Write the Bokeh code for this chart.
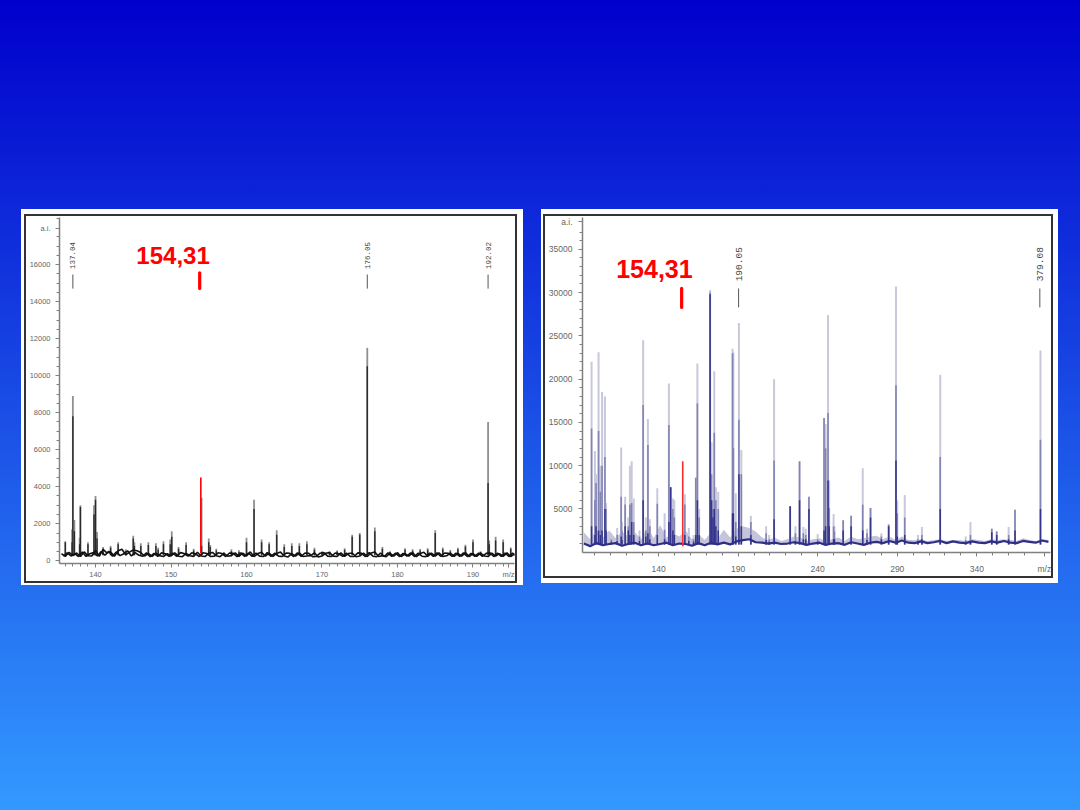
import math
import numpy as np
from bokeh.embed import file_html
from bokeh.resources import INLINE
from bokeh.models import FixedTicker, Range1d, Row
from bokeh.plotting import figure
from bokeh.core.properties import value

# ---------- left spectrum ----------
left_mz = [136, 136.9, 137, 137.2, 137.9, 138, 139, 139.8, 140, 140.2, 141, 142, 143, 144, 145, 145.15, 146, 147, 148, 148.3, 149, 149.9, 150.1, 151, 152, 153, 154.05, 155, 155.2, 156, 157, 158, 159, 160, 161, 162, 163, 164, 165, 166, 167, 168, 169, 170, 171, 172, 173, 174, 175, 176, 177, 178, 179, 180, 181, 182, 183, 184, 185, 186, 187, 188, 189, 190, 191, 192, 192.15, 193, 194, 195]
left_top = [1050, 1700, 8900, 2200, 1250, 3000, 1000, 3000, 3500, 1550, 750, 800, 1000, 620, 1350, 1000, 950, 1000, 950, 700, 1050, 1150, 1600, 750, 1000, 650, 3400, 1200, 850, 650, 480, 620, 570, 1250, 3300, 1150, 1000, 1650, 900, 950, 950, 1050, 700, 520, 520, 560, 680, 1400, 1500, 11500, 1800, 750, 520, 480, 680, 620, 640, 680, 1650, 720, 580, 700, 870, 1150, 520, 7500, 1100, 1300, 1150, 720]
left_core = [1000, 1000, 7800, 1600, 900, 2900, 900, 2500, 3300, 1200, 650, 700, 900, 520, 1200, 800, 800, 850, 800, 600, 900, 900, 1300, 650, 850, 550, 800, 1000, 750, 550, 420, 520, 480, 1000, 2800, 1000, 900, 1400, 750, 800, 800, 900, 600, 470, 470, 500, 600, 1300, 1400, 10500, 1600, 650, 470, 430, 600, 540, 560, 600, 1500, 620, 500, 620, 770, 1000, 470, 4200, 900, 1100, 1000, 650]
left_base = [380, 240, 460, 280, 420, 230, 480, 270, 260, 560, 240, 620, 430, 470, 250, 540, 620, 320, 470, 580, 540, 450, 260, 400, 240, 420, 270, 230, 390, 260, 430, 250, 220, 400, 270, 240, 460, 260, 230, 410, 450, 270, 220, 400, 250, 280, 430, 240, 410, 260, 480, 230, 390, 460, 250, 420, 240, 400, 470, 260, 210, 390, 250, 430, 230, 260, 280, 430, 200, 260, 410, 440, 250, 230, 430, 240, 390, 420, 220, 260, 410, 230, 420, 480, 230, 280, 220, 410, 250, 430, 230, 390, 250, 440, 220, 390, 460, 240, 410, 250, 430, 230, 270, 420, 240, 400, 250, 440, 220, 390, 240, 420, 260, 230, 410, 250, 390, 240, 430, 230, 380]
left_base_b = [250, 430, 260, 390, 230, 470, 240, 380, 450, 260, 500, 300, 510, 240, 480, 280, 380, 540, 260, 440, 300, 240, 430, 220, 400, 240, 430, 380, 240, 420, 240, 440, 390, 250, 430, 380, 230, 430, 390, 230, 250, 430, 390, 230, 420, 400, 220, 430, 240, 420, 240, 420, 250, 230, 440, 240, 410, 250, 230, 420, 400, 230, 430, 240, 420, 400, 220, 240, 410, 440, 250, 230, 420, 380, 240, 410, 240, 230, 430, 400, 230, 440, 250, 220, 420, 230, 430, 240, 420, 230, 400, 250, 430, 230, 410, 250, 220, 410, 240, 430, 230, 420, 400, 240, 410, 240, 430, 230, 400, 240, 420, 240, 400, 430, 230, 410, 240, 420, 230, 410, 240]
left_y_ticks = [0, 2000, 4000, 6000, 8000, 10000, 12000, 14000, 16000, 17950]
left_y_minor = [500, 1000, 1500, 2500, 3000, 3500, 4500, 5000, 5500, 6500, 7000, 7500, 8500, 9000, 9500, 10500, 11000, 11500, 12500, 13000, 13500, 14500, 15000, 15500, 16500, 17000, 17500, 18500]
left_x_ticks = [140, 150, 160, 170, 180, 190, 194.7]
left_x_minor = [136, 137, 138, 139, 141, 142, 143, 144, 145, 146, 147, 148, 149, 151, 152, 153, 154, 155, 156, 157, 158, 159, 161, 162, 163, 164, 165, 166, 167, 168, 169, 171, 172, 173, 174, 175, 176, 177, 178, 179, 181, 182, 183, 184, 185, 186, 187, 188, 189, 191, 192, 193, 194]
left_tags = ["137.04", "176.05", "192.02"]
left_tag_mz = [137, 176, 192]
left_red_mz = [153.95]
left_red_top = [4500]

# ---------- right spectrum ----------
right_mz = [97.9, 100, 100.7, 102.3, 103.4, 104.5, 106.3, 107, 110.3, 114, 116.5, 117, 119, 121, 122, 123.1, 124.4, 128, 130.3, 132, 133.3, 134.5, 139.2, 143.8, 146.5, 147.6, 149, 149.9, 156.5, 159, 162, 163.4, 164.4, 165.5, 172.4, 173.3, 174.2, 175, 176, 177.5, 186.5, 187, 188.5, 190.5, 192, 198, 207.6, 209.5, 212.6, 222.7, 226, 228.6, 231, 232.5, 234.5, 240, 244, 245, 246.5, 247.2, 250, 250.5, 256, 261, 268.3, 271, 273.2, 280, 284.6, 289.2, 290, 294.7, 303, 305.5, 317, 333, 336, 349.4, 352.5, 360, 364, 380]
right_light = [22000, 11700, 9000, 23100, 10000, 18500, 18000, 5700, 2000, 2800, 12100, 3500, 6400, 4000, 10000, 10500, 6200, 2500, 24500, 4000, 15400, 3800, 7400, 4500, 19500, 7500, 6200, 6000, 6700, 2800, 2000, 8600, 21800, 5000, 30300, 12700, 6000, 20900, 7500, 7000, 23500, 23100, 6800, 26500, 11800, 4200, 3000, 2000, 20000, 5300, 3000, 10500, 2900, 2700, 6400, 2100, 15500, 14800, 27400, 8300, 4400, 3000, 3700, 4200, 9700, 2700, 5100, 2200, 3200, 30700, 6000, 6600, 2000, 2900, 20500, 1800, 3500, 2700, 2400, 2900, 4900, 23300]
right_mid = [14300, 6000, 8000, 14000, 7000, 10000, 11000, 5000, 1500, 2000, 6400, 2500, 5500, 3000, 5500, 5700, 3500, 1800, 17000, 2500, 12400, 3000, 5600, 2600, 14700, 7500, 5000, 4000, 5500, 1800, 1500, 8600, 17200, 4000, 30000, 9000, 5000, 13800, 6000, 5000, 23000, 12000, 3500, 15300, 9000, 3500, 2200, 1500, 10600, 5300, 2200, 10500, 2200, 2000, 6400, 1500, 15500, 12000, 16100, 5100, 3000, 2400, 3700, 4200, 5500, 2200, 5100, 1800, 3200, 19300, 4500, 4000, 1500, 2000, 11000, 1400, 2000, 2700, 2400, 2000, 4900, 13000]
right_dark = [3000, 2000, 3000, 2500, 2000, 2500, 5000, 2500, 1200, 1300, 1800, 1400, 3000, 2500, 2000, 3500, 2000, 1300, 6000, 1800, 2200, 1500, 2000, 1500, 3500, 7500, 2500, 2000, 2000, 1300, 1200, 2000, 6000, 2000, 29800, 6000, 4000, 5000, 3000, 2500, 4500, 4500, 1800, 9000, 3000, 2000, 1400, 1200, 3800, 5300, 1300, 6000, 1500, 1500, 5000, 1200, 2500, 3000, 8300, 3000, 1500, 1500, 2500, 3000, 2500, 1400, 4000, 1500, 3000, 10600, 1800, 2000, 1200, 1500, 5000, 1200, 1300, 2300, 2000, 1500, 2500, 5000]
right_base = [1000, 700, 1050, 800, 950, 1050, 750, 950, 1100, 800, 1000, 800, 950, 1100, 800, 1000, 950, 750, 1050, 800, 1100, 900, 1100, 900, 1250, 1400, 1500, 1150, 1100, 1000, 1100, 950, 1000, 1150, 1050, 850, 1000, 1100, 850, 1000, 1050, 850, 1150, 1000, 850, 1100, 1200, 1050, 1300, 1100, 1350, 1100, 1050, 1250, 1050, 1150, 1300, 1050, 1250, 1100, 1050, 1250, 1100, 1050, 1250, 1100, 1300, 1100, 1050, 1300, 1200, 1100, 1350, 1200]
right_fuzz = [2300, 1500, 2600, 1700, 2500, 1600, 2400, 1800, 2300, 1500, 2900, 1600, 3100, 1700, 2200, 1800, 2500, 1500, 2100, 1400, 2300, 1500, 2600, 1700, 2700, 3000, 2800, 2400, 1700, 1400, 1700, 1300, 1500, 1800, 1700, 1300, 1500, 1600, 1300, 1500, 1700, 1300, 1800, 1500, 1600, 1800, 1900, 1500, 1800, 1400, 1800, 1400, 1400, 1500, 1300, 1400, 1500, 1300, 1400, 1400, 1300, 1500, 1400, 1300, 1500, 1400, 1500, 1400, 1300, 1600, 1400, 1300, 1500, 1400]
right_y_ticks = [5000, 10000, 15000, 20000, 25000, 30000, 35000, 38200]
right_y_minor = [1000, 2000, 3000, 4000, 6000, 7000, 8000, 9000, 11000, 12000, 13000, 14000, 16000, 17000, 18000, 19000, 21000, 22000, 23000, 24000, 26000, 27000, 28000, 29000, 31000, 32000, 33000, 34000, 36000, 37000]
right_x_ticks = [140, 190, 240, 290, 340, 382.4]
right_x_minor = [100, 110, 120, 130, 150, 160, 170, 180, 200, 210, 220, 230, 250, 260, 270, 280, 300, 310, 320, 330, 350, 360, 370]
right_tags = ["190.05", "379.08"]
right_tag_mz = [190.3, 379.6]
right_red_mz = [155.2]
right_red_top = [10500]

RED = "#ff0000"
AXIS = "#808080"
TEXT = "#666666"


def panel(width, height, borders, xr, yr, xt, xm, yt, ym, font_px, x_off, y_off):
    left, right, top, bottom = borders
    p = figure(width=width, height=height, output_backend="svg", toolbar_location=None,
               x_range=Range1d(*xr), y_range=Range1d(*yr),
               min_border_left=left, min_border_right=right,
               min_border_top=top, min_border_bottom=bottom,
               background_fill_color="white", border_fill_color="white",
               outline_line_color=None)
    p.styles = {"box-shadow": "0 0 0 2px #333333"}
    p.grid.visible = False
    for ax, major, minor, off in ((p.xaxis[0], xt, xm, x_off), (p.yaxis[0], yt, ym, y_off)):
        ax.ticker = FixedTicker(ticks=major, minor_ticks=minor)
        ax.axis_line_color = AXIS
        ax.axis_line_width = 1.5
        ax.major_tick_line_color = AXIS
        ax.minor_tick_line_color = AXIS
        ax.major_tick_in = 0
        ax.minor_tick_in = 0
        ax.major_tick_out = 4
        ax.minor_tick_out = 3
        ax.major_label_text_font = "Liberation Sans"
        ax.major_label_text_font_size = font_px
        ax.major_label_text_color = TEXT
        ax.major_label_standoff = off
    p.xaxis[0].major_label_overrides = {xt[-1]: "m/z"}
    p.yaxis[0].major_label_overrides = {yt[-1]: "a.i."}
    return p


# ---------- left panel ----------
p1 = panel(489, 365, (33, 1, 1, 18), (135.23, 195.5), (-146, 18540),
           left_x_ticks, left_x_minor, left_y_ticks, left_y_minor, "7.5px", 2, 5)
p1.margin = (7, 8, 4, 5)
lb = [300] * len(left_mz)
p1.segment(left_mz, lb, left_mz, left_top, line_color="#8f8f8f", line_width=1.8)
p1.segment(left_mz, lb, left_mz, left_core, line_color="#2a2a2a", line_width=1.4)
p1.line(135.5 + 0.5 * np.arange(len(left_base)), left_base, line_color="#111111", line_width=1.6)
p1.line(135.75 + 0.5 * np.arange(len(left_base_b)), left_base_b, line_color="#111111", line_width=1.6)
p1.segment(left_red_mz, [400], left_red_mz, left_red_top, line_color=RED, line_width=1.6)
p1.segment(left_tag_mz, [14700] * 3, left_tag_mz, [15460] * 3, line_color="#555555", line_width=1)
p1.text(left_tag_mz, [15760] * 3, text=left_tags, angle=math.pi / 2, text_align="left",
        text_baseline="middle", text_font=value("Liberation Mono"), text_font_size="7.5px",
        text_color="#444444")
p1.segment([153.8], [14700], [153.8], [15550], line_color=RED, line_width=3.2, line_cap="round")
p1.text([150.27], [16490], text=["154,31"], text_align="center", text_baseline="middle",
        text_font=value("Liberation Sans"), text_font_style="bold", text_font_size="24px",
        text_color=RED)

# ---------- right panel ----------
p2 = panel(506, 360, (37, 1, 1, 24), (92.2, 386.3), (-35, 38680),
           right_x_ticks, right_x_minor, right_y_ticks, right_y_minor, "8.5px", 7, 6)
p2.margin = (7, 7, 7, 4)
grid2 = 93 + 4 * np.arange(len(right_base))
p2.varea(grid2, right_base, right_fuzz, fill_color="#c4c4da")
rb = [900] * len(right_mz)
p2.segment(right_mz, rb, right_mz, right_light, line_color="#c8c8dc", line_width=2)
p2.segment(right_mz, rb, right_mz, right_mid, line_color="#8383b4", line_width=1.6)
p2.segment(right_mz, rb, right_mz, right_dark, line_color="#34348c", line_width=1.5)
p2.line(grid2, right_base, line_color="#2e2e88", line_width=2.2)
p2.segment(right_red_mz, [700], right_red_mz, right_red_top, line_color="#ff2a2a", line_width=1.6)
p2.segment(right_tag_mz, [28290] * 2, right_tag_mz, [30480] * 2, line_color="#555555", line_width=1)
p2.text(right_tag_mz, [31300] * 2, text=right_tags, angle=math.pi / 2, text_align="left",
        text_baseline="middle", text_font=value("Liberation Mono"), text_font_size="9.5px",
        text_color="#444444")
p2.segment([154.5], [28290], [154.5], [30480], line_color=RED, line_width=3.2, line_cap="round")
p2.text([137.4], [32680], text=["154,31"], text_align="center", text_baseline="middle",
        text_font=value("Liberation Sans"), text_font_style="bold", text_font_size="25px",
        text_color=RED)

w1 = Row(children=[p1], width=502, height=376, styles={"background": "white"}, margin=(209, 0, 0, 21))
w2 = Row(children=[p2], width=517, height=374, styles={"background": "white"}, margin=(209, 0, 0, 18))
html = file_html(Row(children=[w1, w2]), INLINE)
css = ("<style>html{height:100%;background:linear-gradient(#0000cc,#3399ff) no-repeat;"
       "background-size:100% 810px;}body{background:transparent;overflow:hidden;}</style>")
html = html.replace("</head>", css + "</head>", 1)
open("out.html", "w").write(html)
